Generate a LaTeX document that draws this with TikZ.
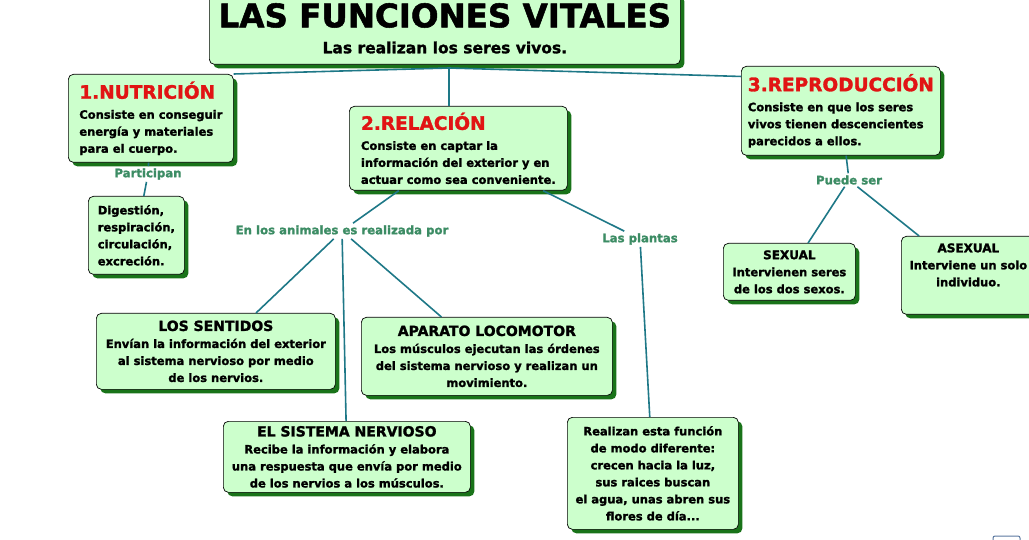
\documentclass[tikz,border=0pt]{standalone}
\usepackage{fontspec}
\setmainfont{DejaVu Sans}[BoldFeatures={FakeBold=1.6}]
\usetikzlibrary{shadows}
\definecolor{BoxGreen}{RGB}{204, 255, 204}
\definecolor{ShadowGreen}{RGB}{25, 115, 25}
\definecolor{HeadRed}{RGB}{225, 20, 20}
\definecolor{LabelGreen}{RGB}{60, 140, 100}
\definecolor{LinkTeal}{RGB}{30, 120, 135}
\definecolor{IconBlue}{RGB}{90, 120, 160}
\newcommand{\headtxt}[1]{{\color{HeadRed}\fontsize{18.5}{22}\selectfont #1}}
\newcommand{\subtxt}[1]{{\fontsize{14}{17}\selectfont #1}}
\newcommand{\smalltxt}[1]{{\fontsize{12}{17}\selectfont #1}}

\begin{document}
\begin{tikzpicture}[x=1pt, y=-1pt,
      box/.style={rectangle, draw=black, line width=0.7pt, fill=BoxGreen, rounded corners=5pt,
      drop shadow={shadow xshift=4pt, shadow yshift=-4pt, fill=ShadowGreen, opacity=1},
      anchor=north west, inner sep=0pt, font=\bfseries\fontsize{11.5}{17}\selectfont},
      lbl/.style={text=LabelGreen, inner sep=2pt, font=\bfseries\fontsize{11.7}{14}\selectfont},
      link/.style={draw=LinkTeal, line width=1.6pt}
    ]
      \useasboundingbox (0,0) rectangle (1029,540);

      % main title
      \node[box, minimum width=471pt, minimum height=72pt, align=center,
        font=\bfseries\fontsize{15.5}{26}\selectfont] (title) at (209,-8)
        {{\fontsize{32.5}{36}\selectfont LAS FUNCIONES VITALES}\\Las realizan los seres vivos.};

      % the three functions
      \node[box, minimum width=165pt, minimum height=88pt, align=left] (nutri) at (68,74)
        {\headtxt{1.NUTRICIÓN}\\[3pt]Consiste en conseguir\\energía y materiales\\para el cuerpo.};
      \node[box, minimum width=218pt, minimum height=84pt, align=left] (relac) at (349,106)
        {\headtxt{2.RELACIÓN}\\[3pt]Consiste en captar la\\información del exterior y en\\actuar como sea conveniente.};
      \node[box, minimum width=199pt, minimum height=89pt, align=left] (reprod) at (741,66)
        {\headtxt{3.REPRODUCCIÓN}\\[3pt]Consiste en que los seres\\vivos tienen descencientes\\parecidos a ellos.};

      % link labels
      \node[lbl] (part) at (148,174) {Participan};
      \node[lbl] (anim) at (342,231) {En los animales es realizada por};
      \node[lbl] (plantas) at (640,239) {Las plantas};
      \node[lbl] (puede) at (849,180) {Puede ser};

      % lower boxes
      \node[box, minimum width=96pt, minimum height=78pt, align=left] (diges) at (88,196)
        {Digestión,\\respiración,\\circulación,\\excreción.};
      \node[box, minimum width=239pt, minimum height=76pt, align=center] (sentidos) at (96,313)
        {\subtxt{LOS SENTIDOS}\\Envían la información del exterior\\al sistema nervioso por medio\\de los nervios.};
      \node[box, minimum width=251pt, minimum height=78pt, align=center] (locom) at (361,317)
        {\subtxt{APARATO LOCOMOTOR}\\Los músculos ejecutan las órdenes\\del sistema nervioso y realizan un\\movimiento.};
      \node[box, minimum width=247pt, minimum height=71pt, align=center] (sistema) at (223,421)
        {\subtxt{EL SISTEMA NERVIOSO}\\Recibe la información y elabora\\una respuesta que envía por medio\\de los nervios a los músculos.};
      \node[box, minimum width=171pt, minimum height=112pt, align=center] (plantbox) at (567,417)
        {Realizan esta función\\de modo diferente:\\crecen hacia la luz,\\sus raices buscan\\el agua, unas abren sus\\flores de día...};
      \node[box, minimum width=132pt, minimum height=57pt, align=center] (sexual) at (723,243)
        {\smalltxt{SEXUAL}\\Intervienen seres\\de los dos sexos.};
      \node[box, minimum width=134pt, minimum height=78pt, align=center] (asexual) at (901,236)
        {\smalltxt{ASEXUAL}\\Interviene un solo\\individuo.\\[4pt]\mbox{}};

      % connectors
      \coordinate (hub) at (449,68);
      \draw[link] (hub) -- (nutri.north east);
      \draw[link] (hub) -- (reprod.161);
      \draw[link] (hub) -- (hub |- relac.north);
      \draw[link] (nutri) -- (part);
      \draw[link] (part) -- (diges);
      \draw[link] (relac) -- (anim);
      \draw[link] (relac) -- (plantas);
      \draw[link] (anim) -- (sentidos);
      \draw[link] (anim) -- (sistema);
      \draw[link] (anim) -- (locom);
      \draw[link] (plantas) -- (plantbox);
      \draw[link] (reprod) -- (puede);
      \draw[link] (puede) -- (sexual);
      \draw[link] (puede) -- (asexual);

      % corner of the little icon at the bottom
      \draw[IconBlue, line width=1pt, rounded corners=2pt] (993,546) -- (993,536) -- (1020,536) -- (1020,546);
    \end{tikzpicture}
\end{document}
